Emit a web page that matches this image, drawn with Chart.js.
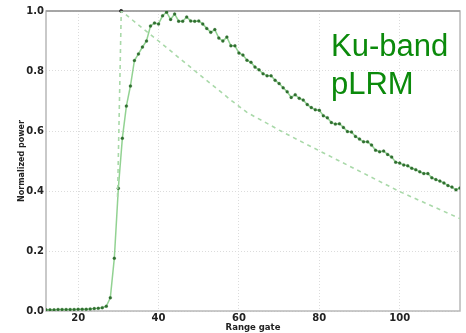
<!DOCTYPE html>
<html>
<head>
<meta charset="utf-8">
<script src="https://cdn.jsdelivr.net/npm/chart.js@4"></script>
<style>
  html, body { margin: 0; padding: 0; background: #fff; }
  #wrap { position: relative; width: 466px; height: 333px; }
  #c { position: absolute; left: 0; top: 0; }
  #label {
    position: absolute; left: 331px; top: 27px;
    font-family: "Liberation Sans", Arial, sans-serif;
    font-size: 31px; line-height: 38px; color: #0b8a0b;
    white-space: pre;
  }
</style>
</head>
<body>
<div id="wrap">
  <canvas id="c" width="466" height="333"></canvas>
  <div id="label">Ku-band
pLRM</div>
</div>
<script>
// Range gates (categories)
const gates = [12,13,14,15,16,17,18,19,20,21,22,23,24,25,26,27,28,29,30,31,
  32,33,34,35,36,37,38,39,40,41,42,43,44,45,46,47,48,49,50,51,
  52,53,54,55,56,57,58,59,60,61,62,63,64,65,66,67,68,69,70,71,
  72,73,74,75,76,77,78,79,80,81,82,83,84,85,86,87,88,89,90,91,
  92,93,94,95,96,97,98,99,100,101,102,103,104,105,106,107,108,109,110,111,
  112,113,114,115];
// Measured normalized waveform power
const waveform = [0.004,0.004,0.004,0.005,0.005,0.005,0.005,0.005,0.006,0.006,
  0.006,0.007,0.008,0.009,0.011,0.016,0.044,0.176,0.409,0.576,
  0.683,0.750,0.835,0.857,0.880,0.900,0.950,0.960,0.957,0.984,
  0.996,0.972,0.990,0.966,0.966,0.980,0.967,0.966,0.967,0.957,
  0.942,0.929,0.938,0.910,0.900,0.913,0.884,0.884,0.860,0.853,
  0.836,0.829,0.813,0.804,0.791,0.784,0.784,0.769,0.758,0.744,
  0.731,0.712,0.721,0.709,0.703,0.688,0.678,0.671,0.669,0.651,
  0.644,0.628,0.623,0.624,0.612,0.598,0.597,0.582,0.573,0.564,
  0.564,0.553,0.536,0.531,0.533,0.522,0.513,0.496,0.493,0.487,
  0.484,0.476,0.471,0.464,0.458,0.458,0.444,0.438,0.433,0.427,
  0.418,0.413,0.404,0.410];
// Model (dashed) curve
const modelGates  = [29.8, 30.72, 40, 50, 58, 62, 64, 66, 70, 75, 85, 100, 115];
const modelValues = [0.38, 1.0, 0.90, 0.79, 0.703, 0.662, 0.647, 0.633, 0.603, 0.568, 0.50, 0.398, 0.308];
// Epoch marker
const epochGate = [30.7];
const epochValue = [1.0];
// Axis ticks
const xTicks = [20, 40, 60, 80, 100];
const yTicks = [0.0, 0.2, 0.4, 0.6, 0.8, 1.0];

const toXY = (xs, ys) => xs.map((x, i) => ({x: x, y: ys[i]}));

const framePlugin = {
  id: 'frame',
  beforeDatasetsDraw(chart) {
    const {ctx, chartArea: a} = chart;
    ctx.save();
    ctx.lineWidth = 1.5;
    ctx.strokeStyle = '#b8b8b8';
    ctx.strokeRect(a.left, a.top, a.right - a.left, a.bottom - a.top);
    ctx.strokeStyle = '#9a9a9a';
    ctx.beginPath(); ctx.moveTo(a.left, a.top); ctx.lineTo(a.right, a.top); ctx.stroke();
    ctx.restore();
  }
};

new Chart(document.getElementById('c'), {
  type: 'scatter',
  data: {
    datasets: [
      {
        label: 'Model',
        data: toXY(modelGates, modelValues),
        showLine: true,
        borderColor: '#a9d9a9',
        borderWidth: 1.6,
        borderDash: [4, 4],
        pointRadius: 0,
        tension: 0
      },
      {
        label: 'Waveform',
        data: toXY(gates, waveform),
        showLine: true,
        borderColor: 'rgba(110,195,110,0.75)',
        borderWidth: 1.5,
        pointRadius: 1.5,
        pointBackgroundColor: '#2f6f2f',
        pointBorderColor: 'rgba(47,111,47,0.5)',
        pointBorderWidth: 0.5,
        tension: 0
      },
      {
        label: 'Epoch',
        data: toXY(epochGate, epochValue),
        pointRadius: 1.6,
        pointBackgroundColor: '#333',
        pointBorderColor: '#333',
        clip: false
      }
    ]
  },
  options: {
    responsive: false,
    animation: false,
    devicePixelRatio: 1,
    layout: { padding: { top: 11, right: 6, left: 0, bottom: 0 } },
    plugins: { legend: { display: false }, tooltip: { enabled: false } },
    scales: {
      x: {
        type: 'linear',
        min: 12, max: 115,
        afterBuildTicks: (s) => { s.ticks = xTicks.map(v => ({value: v})); },
        afterFit: (s) => { s.height = 22; },
        grid: { color: '#dcdcdc', lineWidth: 1, drawTicks: false },
        border: { display: false, dash: [1, 2] },
        ticks: {
          padding: 1,
          color: '#222',
          font: { family: 'DejaVu Sans', weight: 'bold', size: 10 },
          maxRotation: 0
        },
        title: {
          display: true, text: 'Range gate', color: '#222',
          font: { family: 'DejaVu Sans', weight: 'bold', size: 8.5 },
          padding: { top: 0, bottom: 0 }
        }
      },
      y: {
        type: 'linear',
        min: 0, max: 1,
        afterBuildTicks: (s) => { s.ticks = yTicks.map(v => ({value: v})); },
        afterFit: (s) => { s.width = 46; },
        grid: { color: '#dcdcdc', lineWidth: 1, drawTicks: false },
        border: { display: false, dash: [1, 2] },
        ticks: {
          padding: 2,
          color: '#222',
          font: { family: 'DejaVu Sans', weight: 'bold', size: 10 },
          callback: (v) => Number(v).toFixed(1)
        },
        title: {
          display: true, text: 'Normalized power', color: '#222',
          font: { family: 'DejaVu Sans', weight: 'bold', size: 8 },
          padding: { top: 17, bottom: 0 }
        }
      }
    }
  },
  plugins: [framePlugin]
});
</script>
</body>
</html>
